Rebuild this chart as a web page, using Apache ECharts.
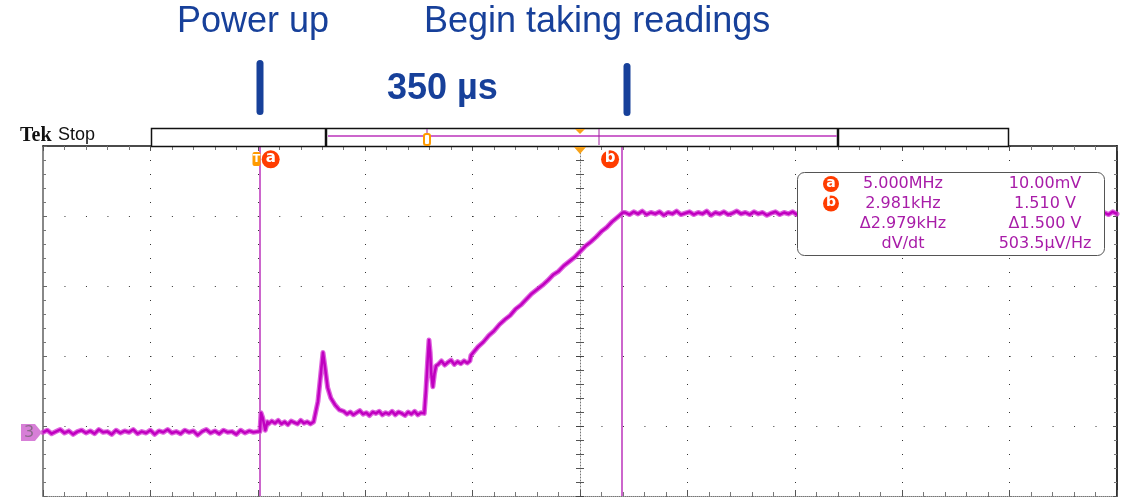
<!DOCTYPE html>
<html><head><meta charset="utf-8">
<script src="https://cdn.jsdelivr.net/npm/echarts@6/dist/echarts.min.js"></script>
<style>html,body{margin:0;padding:0;background:#fff}#c{width:1130px;height:498px}</style>
</head><body><div id="c"></div>
<script>
// Trace: time in divisions (0..10), level in divisions above bottom edge
const idleTime = [0.00,0.04,0.08,0.12,0.16,0.20,0.24,0.28,0.32,0.36,0.40,0.44,0.48,0.52,0.56,0.60,0.64,0.68,0.72,0.76,0.80,0.84,0.88,0.92,0.96,1.00,1.04,1.08,1.12,1.16,1.20,1.24,1.28,1.32,1.36,1.40,1.44,1.48,1.52,1.56,1.60,1.64,1.68,1.72,1.76,1.80,1.84,1.88,1.92,1.96,2.00,2.02];
const idleLevel = [0.91,0.94,0.89,0.92,0.95,0.90,0.93,0.88,0.92,0.94,0.90,0.93,0.89,0.95,0.91,0.92,0.88,0.94,0.90,0.93,0.91,0.95,0.89,0.92,0.90,0.94,0.88,0.93,0.91,0.95,0.90,0.92,0.89,0.94,0.91,0.93,0.87,0.92,0.95,0.90,0.93,0.89,0.94,0.91,0.92,0.88,0.94,0.90,0.93,0.91,0.92,0.92];
const powerTime = [2.03,2.045,2.07,2.09,2.10,2.13,2.16,2.19,2.22,2.25,2.28,2.31,2.34,2.37,2.40,2.43,2.46,2.49,2.52,2.53];
const powerLevel = [1.19,1.12,0.94,1.06,1.03,1.07,1.04,1.08,1.03,1.06,1.02,1.07,1.05,1.03,1.08,1.04,1.06,1.03,1.06,1.05];
const bumpTime = [2.56,2.59,2.607,2.625,2.65,2.68,2.72,2.76,2.80,2.83,2.86,2.89,2.92,2.95,2.98,3.01,3.04,3.07,3.10,3.13,3.16,3.19,3.22,3.25,3.28,3.31,3.34,3.37,3.40,3.43,3.46,3.49,3.52,3.55];
const bumpLevel = [1.35,1.80,2.05,1.85,1.55,1.40,1.30,1.23,1.21,1.17,1.20,1.16,1.19,1.22,1.17,1.19,1.15,1.20,1.18,1.21,1.16,1.19,1.17,1.21,1.16,1.20,1.18,1.15,1.20,1.17,1.21,1.16,1.19,1.18];
const stepTime = [3.565,3.58,3.594,3.605,3.615,3.63,3.645,3.66,3.68,3.71,3.74,3.77,3.80,3.83,3.86,3.89,3.92,3.95,3.975];
const stepLevel = [1.50,1.90,2.23,2.05,1.75,1.56,1.75,1.86,1.88,1.93,1.87,1.91,1.94,1.88,1.92,1.89,1.93,1.90,1.93];
const rampTime = [3.985,4.05,4.10,4.15,4.20,4.25,4.30,4.35,4.40,4.45,4.50,4.55,4.60,4.65,4.70,4.75,4.80,4.85,4.90,4.95,5.00,5.05,5.10,5.15,5.20,5.25,5.30,5.37,5.40];
const rampLevel = [2.01,2.13,2.20,2.29,2.36,2.45,2.52,2.58,2.67,2.73,2.81,2.89,2.95,3.01,3.08,3.16,3.21,3.29,3.35,3.41,3.49,3.57,3.63,3.70,3.78,3.84,3.92,4.01,4.05];
const holdTime = [5.42,5.46,5.50,5.54,5.58,5.62,5.66,5.70,5.74,5.78,5.82,5.86,5.90,5.94,5.98,6.02,6.06,6.10,6.14,6.18,6.22,6.26,6.30,6.34,6.38,6.42,6.46,6.50,6.54,6.58,6.62,6.66,6.70,6.74,6.78,6.82,6.86,6.90,6.94,6.98,7.02,7.06,7.10,7.50,8.50,9.50,9.88,9.92,9.96,10.00];
const holdLevel = [4.05,4.02,4.06,4.03,4.07,4.02,4.05,4.03,4.06,4.01,4.05,4.03,4.07,4.02,4.04,4.06,4.02,4.05,4.03,4.07,4.01,4.05,4.03,4.06,4.02,4.04,4.07,4.03,4.05,4.02,4.06,4.03,4.05,4.01,4.04,4.06,4.02,4.05,4.03,4.06,4.02,4.05,4.04,4.04,4.04,4.04,4.05,4.02,4.06,4.03];
const cursorPos = [2.02, 5.39];
const cursorNames = ['a', 'b'];
const readoutFreq = ['5.000MHz', '2.981kHz', '\u03942.979kHz', 'dV/dt'];
const readoutVolt = ['10.00mV', '1.510 V', '\u03941.500 V', '503.5\u00b5V/Hz'];
const annotationText = ['Power up', 'Begin taking readings', '350 \u00b5s'];

const traceTime = [].concat(idleTime, powerTime, bumpTime, stepTime, rampTime, holdTime);
const traceLevel = [].concat(idleLevel, powerLevel, bumpLevel, stepLevel, rampLevel, holdLevel);
const traceData = traceTime.map((t, i) => [t, traceLevel[i]]);

const chart = echarts.init(document.getElementById('c'), null, {renderer: 'canvas'});
const NAVY = '#17409a';
const MAG = '#c000c0';
const CUR = '#cc66cc';
const RO = '#a81ca8';

function ax(extra) {
  return Object.assign({type: 'value', min: 0, interval: 1, axisLabel: {show: false}, splitLine: {show: false}, axisPointer: {show: false}}, extra);
}

const graphic = [
  {type: 'text', left: 177, top: 4, style: {text: annotationText[0], font: '36px "Liberation Sans", Arial, sans-serif', fill: NAVY}},
  {type: 'text', left: 424, top: 4, style: {text: annotationText[1], font: '36px "Liberation Sans", Arial, sans-serif', fill: NAVY}},
  {type: 'text', left: 387, top: 71, style: {text: annotationText[2], font: 'bold 36px "Liberation Sans", Arial, sans-serif', fill: NAVY}},
  {type: 'rect', shape: {x: 256.5, y: 60, width: 7, height: 55, r: 3.5}, style: {fill: NAVY}},
  {type: 'rect', shape: {x: 623.5, y: 63, width: 7, height: 53, r: 3.5}, style: {fill: NAVY}},
  {type: 'text', left: 20, top: 126, style: {text: 'Tek', font: 'bold 20px "Liberation Serif", "DejaVu Serif", serif', fill: '#111'}},
  {type: 'text', left: 58, top: 126, style: {text: 'Stop', font: '18px "Liberation Sans", Arial, sans-serif', fill: '#111'}},
  {type: 'rect', shape: {x: 151.5, y: 128.5, width: 857, height: 18}, style: {fill: '#fff', stroke: '#111', lineWidth: 1.5}, z: 10},
  {type: 'line', shape: {x1: 326, y1: 128, x2: 326, y2: 146}, style: {stroke: '#111', lineWidth: 2.5}, z: 11},
  {type: 'line', shape: {x1: 838, y1: 128, x2: 838, y2: 146}, style: {stroke: '#111', lineWidth: 2.5}, z: 11},
  {type: 'line', shape: {x1: 328, y1: 136, x2: 837, y2: 136}, style: {stroke: CUR, lineWidth: 2}, z: 11},
  {type: 'line', shape: {x1: 427, y1: 129, x2: 427, y2: 145}, style: {stroke: '#a020a0', lineWidth: 1}, z: 11},
  {type: 'line', shape: {x1: 599, y1: 129, x2: 599, y2: 145}, style: {stroke: '#a020a0', lineWidth: 1}, z: 11},
  {type: 'rect', shape: {x: 424, y: 134, width: 6, height: 11, r: 2}, style: {fill: '#fff', stroke: '#ff9a00', lineWidth: 2}, z: 12},
  {type: 'polygon', shape: {points: [[575, 129], [585, 129], [580, 134]]}, style: {fill: '#f7a11a'}, z: 12},
  {type: 'polygon', shape: {points: [[574, 147], [586, 147], [580, 154]]}, style: {fill: '#f7a11a'}, z: 20},
  {type: 'rect', shape: {x: 252.5, y: 152, width: 8, height: 14, r: 2}, style: {fill: '#ff9a00'}, z: 20},
  {type: 'text', x: 256.5, y: 159, style: {text: 'T', font: 'bold 11px "DejaVu Sans", sans-serif', fill: '#fff', align: 'center', verticalAlign: 'middle'}, z: 21},
  {type: 'polygon', shape: {points: [[21, 424], [35, 424], [42, 432.5], [35, 441], [21, 441]]}, style: {fill: '#d77fd7'}, z: 20},
  {type: 'text', x: 29, y: 433, style: {text: '3', font: '16px "DejaVu Sans", sans-serif', fill: '#8a6a8a', align: 'center', verticalAlign: 'middle'}, z: 21},
  {type: 'rect', shape: {x: 797.5, y: 172.5, width: 307, height: 83, r: 7}, style: {fill: '#fff', stroke: '#555', lineWidth: 1}, z: 50}
];
const rowY = [184, 203.5, 224, 244];
readoutFreq.forEach((s, i) => {
  graphic.push({type: 'text', x: 903, y: rowY[i], style: {text: s, font: '16px "DejaVu Sans", sans-serif', fill: RO, align: 'center', verticalAlign: 'middle'}, z: 51});
});
readoutVolt.forEach((s, i) => {
  graphic.push({type: 'text', x: 1045, y: rowY[i], style: {text: s, font: '16px "DejaVu Sans", sans-serif', fill: RO, align: 'center', verticalAlign: 'middle'}, z: 51});
});
cursorNames.forEach((n, i) => {
  graphic.push({type: 'circle', shape: {cx: 831, cy: rowY[i], r: 8}, style: {fill: '#ff3c00'}, z: 51});
  graphic.push({type: 'text', x: 831, y: rowY[i] - 1, style: {text: n, font: 'bold 14px "DejaVu Sans", sans-serif', fill: '#fff', align: 'center', verticalAlign: 'middle'}, z: 52});
});

const option = {
  animation: false,
  backgroundColor: '#fff',
  grid: {left: 43, right: 13, top: 146, bottom: 2, outerBoundsMode: 'none'},
  xAxis: [
    ax({max: 10, position: 'bottom',
      axisLine: {show: true, onZero: false, lineStyle: {color: '#777', width: 1, type: [1, 1]}},
      axisTick: {show: true, inside: true, length: 6, lineStyle: {color: '#555'}},
      minorTick: {show: true, splitNumber: 5, length: 4, lineStyle: {color: '#777'}},
      splitLine: {show: true, lineStyle: {color: '#333', width: 1, type: [1, 13]}}}),
    ax({max: 10, position: 'top',
      axisLine: {show: true, onZero: false, lineStyle: {color: '#111', width: 1.5}},
      axisTick: {show: true, inside: true, length: 5, lineStyle: {color: '#555'}},
      minorTick: {show: true, splitNumber: 5, length: 4, lineStyle: {color: '#777'}}})
  ],
  yAxis: [
    ax({max: 5, position: 'left',
      axisLine: {show: true, onZero: false, lineStyle: {color: '#888', width: 2}},
      axisTick: {show: true, inside: true, length: 4, lineStyle: {color: '#666'}},
      minorTick: {show: true, splitNumber: 5, length: 3, lineStyle: {color: '#777'}},
      splitLine: {show: true, lineStyle: {color: '#333', width: 1, type: [1, 20.48]}}}),
    ax({max: 5, position: 'right',
      axisLine: {show: true, onZero: false, lineStyle: {color: '#333', width: 2}},
      axisTick: {show: true, inside: true, length: 4, lineStyle: {color: '#555'}},
      minorTick: {show: true, splitNumber: 5, length: 3, lineStyle: {color: '#777'}}}),
    ax({max: 5, position: 'left', offset: -537,
      axisLine: {show: true, onZero: false, lineStyle: {color: '#777', width: 1, type: [1, 2]}},
      axisTick: {show: true, inside: true, length: 4, lineStyle: {color: '#444'}},
      minorTick: {show: true, splitNumber: 5, length: 4, lineStyle: {color: '#555'}}}),
    ax({max: 5, position: 'left', offset: -537,
      axisLine: {show: false},
      axisTick: {show: true, inside: false, length: 4, lineStyle: {color: '#444'}},
      minorTick: {show: true, splitNumber: 5, length: 4, lineStyle: {color: '#555'}}})
  ],
  series: [
    {type: 'line', name: 'cursors', data: [], xAxisIndex: 0, yAxisIndex: 0, z: 3,
      markLine: {silent: true, symbol: ['none', 'none'], label: {show: false}, animation: false,
        lineStyle: {color: CUR, width: 2, type: 'solid'},
        data: cursorPos.map(v => ({xAxis: v}))},
      markPoint: {silent: true, animation: false, symbol: 'circle', symbolSize: 18,
        itemStyle: {color: '#ff3c00'},
        label: {show: true, color: '#fff', fontWeight: 'bold', fontSize: 15, fontFamily: 'DejaVu Sans', formatter: p => p.name, offset: [0, -1]},
        data: [
          {name: cursorNames[0], coord: [cursorPos[0] + 0.1, 4.81]},
          {name: cursorNames[1], coord: [cursorPos[1] - 0.11, 4.81]}
        ]}},
    {type: 'line', name: 'band', data: traceData, showSymbol: false, symbol: 'none', silent: true, z: 4,
      lineStyle: {color: 'rgba(214,60,214,0.8)', width: 5, cap: 'round', join: 'round'}},
    {type: 'line', name: 'CH3', data: traceData, showSymbol: false, symbol: 'none', silent: true, z: 5,
      lineStyle: {color: MAG, width: 2.5, join: 'round'}}
  ],
  graphic: graphic
};
chart.setOption(option);
</script></body></html>
